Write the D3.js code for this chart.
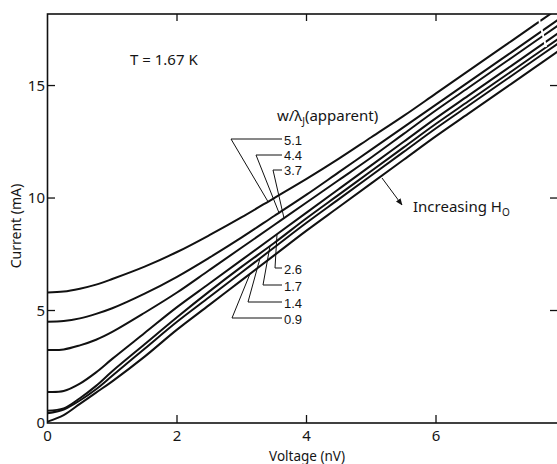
<!DOCTYPE html>
<html>
<head>
<meta charset="utf-8">
<script src="https://cdn.jsdelivr.net/npm/d3@7"></script>
<style>
  body { margin: 0; background: #fff; }
  text { font-family: "Noto Sans", "DejaVu Sans", sans-serif; fill: #151515; }
  .val { font-family: "Liberation Sans", "Noto Sans", sans-serif; }
</style>
</head>
<body>
<script>
// voltage samples (nV) shared by all curves
const voltage = [0, 0.25, 0.5, 0.75, 1, 1.5, 2, 2.5, 3, 3.5, 4, 4.5, 5, 5.5, 6, 6.5, 7, 7.5, 7.9];

// current (mA) for each w/lambdaJ value
const curve51 = [5.8, 5.84, 5.97, 6.15, 6.4, 6.95, 7.6, 8.35, 9.15, 10.0, 10.85, 11.75, 12.7, 13.65, 14.65, 15.65, 16.65, 17.65, 18.45];
const curve44 = [4.5, 4.53, 4.65, 4.85, 5.1, 5.75, 6.5, 7.35, 8.25, 9.2, 10.15, 11.15, 12.15, 13.15, 14.15, 15.15, 16.15, 17.15, 17.95];
const curve37 = [3.25, 3.27, 3.45, 3.7, 4.05, 4.9, 5.8, 6.8, 7.8, 8.8, 9.8, 10.8, 11.8, 12.85, 13.9, 14.9, 15.9, 16.9, 17.7];
const curve26 = [1.38, 1.42, 1.75, 2.25, 2.85, 4.0, 5.15, 6.2, 7.25, 8.3, 9.35, 10.4, 11.45, 12.5, 13.55, 14.55, 15.55, 16.55, 17.35];
const curve17 = [0.55, 0.65, 1.1, 1.65, 2.3, 3.5, 4.7, 5.85, 6.95, 8.0, 9.1, 10.15, 11.2, 12.25, 13.3, 14.3, 15.3, 16.3, 17.1];
const curve14 = [0.43, 0.6, 1.0, 1.5, 2.1, 3.3, 4.5, 5.6, 6.7, 7.8, 8.9, 9.95, 11.0, 12.05, 13.1, 14.1, 15.1, 16.1, 16.9];
const curve09 = [0.06, 0.35, 0.85, 1.35, 1.85, 2.95, 4.15, 5.25, 6.35, 7.45, 8.55, 9.6, 10.65, 11.7, 12.75, 13.75, 14.75, 15.75, 16.55];

const curveLabels = ["5.1", "4.4", "3.7", "2.6", "1.7", "1.4", "0.9"];
const curves = [curve51, curve44, curve37, curve26, curve17, curve14, curve09];

const xTicks = [0, 2, 4, 6];
const yTicks = [0, 5, 10, 15];

const width = 557, height = 464;

var svg = d3.select("body").append("svg")
  .attr("width", width)
  .attr("height", height);

var x = d3.scaleLinear().domain([0, 7.884]).range([47.5, 558]);
var y = d3.scaleLinear().domain([0, 18.18]).range([423, 14]);

svg.append("clipPath").attr("id", "plot")
  .append("rect")
  .attr("x", 47.5).attr("y", 14)
  .attr("width", 558 - 47.5).attr("height", 423 - 14);

// curves
var line = d3.line()
  .x(function (d) { return x(d[0]); })
  .y(function (d) { return y(d[1]); })
  .curve(d3.curveCatmullRom.alpha(0.5));

svg.append("g")
  .attr("clip-path", "url(#plot)")
  .selectAll("path")
  .data(curves)
  .enter()
  .append("path")
  .attr("d", function (d) {
    return line(voltage.map(function (v, i) { return [v, d[i]]; }));
  })
  .attr("fill", "none")
  .attr("stroke", "#111")
  .attr("stroke-width", 2);

// pen breaks near right edge
svg.append("path")
  .attr("d", "M539,19 L542,31 L546,47")
  .attr("fill", "none")
  .attr("stroke", "#fff")
  .attr("stroke-width", 2);

// frame
svg.append("rect")
  .attr("x", 47.5).attr("y", 14)
  .attr("width", 558 - 47.5).attr("height", 423 - 14)
  .attr("fill", "none")
  .attr("stroke", "#111")
  .attr("stroke-width", 1.6);

// ticks
xTicks.slice(1).forEach(function (t) {
  svg.append("line").attr("x1", x(t)).attr("x2", x(t)).attr("y1", 423).attr("y2", 415)
    .attr("stroke", "#111").attr("stroke-width", 1.3);
  svg.append("line").attr("x1", x(t)).attr("x2", x(t)).attr("y1", 14).attr("y2", 21)
    .attr("stroke", "#111").attr("stroke-width", 1.3);
});
yTicks.slice(1).forEach(function (t) {
  svg.append("line").attr("x1", 47.5).attr("x2", 55).attr("y1", y(t)).attr("y2", y(t))
    .attr("stroke", "#111").attr("stroke-width", 1.3);
  svg.append("line").attr("x1", 550).attr("x2", 558).attr("y1", y(t)).attr("y2", y(t))
    .attr("stroke", "#111").attr("stroke-width", 1.3);
});

// tick labels
svg.selectAll(".xt").data(xTicks).enter().append("text")
  .attr("class", "xt")
  .attr("x", function (d) { return x(d); })
  .attr("y", 441)
  .attr("text-anchor", "middle")
  .style("font-size", "15px")
  .text(function (d) { return d; });

svg.selectAll(".yt").data(yTicks).enter().append("text")
  .attr("class", "yt")
  .attr("x", 45)
  .attr("y", function (d) { return y(d) + 5; })
  .attr("text-anchor", "end")
  .style("font-size", "15px")
  .text(function (d) { return d; });

// axis titles
svg.append("text")
  .attr("x", 307).attr("y", 461)
  .attr("text-anchor", "middle")
  .style("font-size", "13.5px")
  .text("Voltage (nV)");

svg.append("text")
  .attr("transform", "translate(21,226) rotate(-90)")
  .attr("text-anchor", "middle")
  .style("font-size", "14px")
  .text("Current (mA)");

svg.append("text")
  .attr("x", 130).attr("y", 65)
  .style("font-size", "15px")
  .text("T = 1.67 K");

var head = svg.append("text")
  .attr("x", 277).attr("y", 121)
  .style("font-size", "15px");
head.append("tspan").text("w/λ");
head.append("tspan").attr("dy", 4).style("font-size", "10px").text("J");
head.append("tspan").attr("dy", -4).text("(apparent)");

// value of a curve at voltage v
function curveAt(c, v) {
  var i = d3.bisectRight(voltage, v) - 1;
  i = Math.max(0, Math.min(voltage.length - 2, i));
  var t = (v - voltage[i]) / (voltage[i + 1] - voltage[i]);
  return c[i] + t * (c[i + 1] - c[i]);
}

// leader lines: text position, elbow, and x where it meets the curve
var leaders = [
  { tx: 284, ty: 145, ex: 231, ey: 139, cx: 268 },
  { tx: 284, ty: 160, ex: 256, ey: 155, cx: 279 },
  { tx: 284, ty: 175, ex: 273, ey: 170, cx: 284 },
  { tx: 284, ty: 274, ex: 275, ey: 268, cx: 277 },
  { tx: 284, ty: 291, ex: 263, ey: 285, cx: 270 },
  { tx: 284, ty: 308, ex: 248, ey: 302, cx: 260 },
  { tx: 284, ty: 324, ex: 232, ey: 318, cx: 250 }
];

leaders.forEach(function (d, i) {
  var px = d.cx;
  var py = y(curveAt(curves[i], x.invert(px)));
  svg.append("path")
    .attr("d", "M" + (d.tx - 2) + "," + d.ey + " L" + d.ex + "," + d.ey + " L" + px + "," + py)
    .attr("fill", "none")
    .attr("stroke", "#111")
    .attr("stroke-width", 1);
  svg.append("text")
    .attr("class", "val")
    .attr("x", d.tx).attr("y", d.ty)
    .style("font-size", "13px")
    .text(curveLabels[i]);
});

// increasing H0 arrow
svg.append("defs").append("marker")
  .attr("id", "arr")
  .attr("viewBox", "0 0 10 10")
  .attr("refX", 9).attr("refY", 5)
  .attr("markerWidth", 7).attr("markerHeight", 7)
  .attr("orient", "auto")
  .append("path")
  .attr("d", "M0,1 L10,5 L0,9 Z")
  .attr("fill", "#111");

svg.append("line")
  .attr("x1", 382).attr("y1", 178)
  .attr("x2", 402).attr("y2", 205)
  .attr("stroke", "#111")
  .attr("stroke-width", 1)
  .attr("marker-end", "url(#arr)");

var inc = svg.append("text")
  .attr("x", 413).attr("y", 212)
  .style("font-size", "15px");
inc.append("tspan").text("Increasing H");
inc.append("tspan").attr("dy", 4).style("font-size", "10px").text("O");
</script>
</body>
</html>
